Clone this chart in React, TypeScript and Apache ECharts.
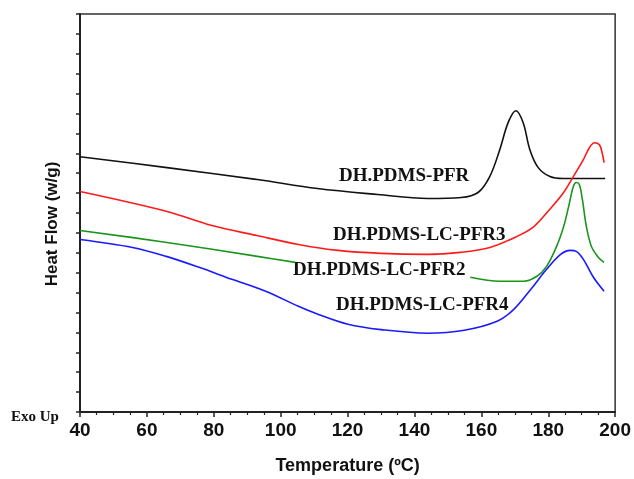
import React, { useEffect, useRef } from "react";
import * as echarts from "echarts";

// DSC thermograms: heat flow (arbitrary units, exo up) against temperature
const blackTemp = [40, 66, 93, 111, 129, 144, 154, 159, 162.5, 165.5, 168, 170.3, 172.5, 174.5, 177, 180.5, 184.5, 197];
const blackHF = [12.83, 12.28, 11.68, 11.23, 10.93, 10.73, 10.78, 11.03, 11.83, 13.18, 14.54, 15.14, 14.54, 13.18, 12.28, 11.83, 11.73, 11.73];

const redTemp = [40, 66, 79.5, 92.8, 105.3, 117.2, 130, 144, 153.7, 162.6, 170.6, 175.7, 180.4, 184.6, 187.5, 190.5, 192.3, 193.8, 195.3, 196.1, 196.7];
const redHF = [11.08, 10.08, 9.37, 8.87, 8.42, 8.12, 7.97, 7.92, 8.02, 8.27, 8.82, 9.32, 10.18, 11.03, 11.83, 12.68, 13.28, 13.53, 13.43, 13.03, 12.53];

// the green trace is interrupted where its label sits
const greenTemp = [40, 66, 93, 104.4, 130, 156.7, 165.6, 172.7, 176.6, 179.5, 182.5, 184.6, 186.1, 187.5, 188.4, 189.3, 190.2, 191.4, 192.9, 195, 196.7];
const greenHF: (number | null)[] = [9.12, 8.52, 7.82, 7.52, null, 6.77, 6.57, 6.57, 6.82, 7.32, 8.32, 9.32, 10.33, 11.33, 11.53, 11.43, 10.68, 9.32, 8.32, 7.77, 7.52];

const blueTemp = [40, 55.7, 65.8, 75.6, 85.4, 95.5, 105.3, 110.4, 120.1, 130, 143.9, 154.9, 164.7, 169.7, 174.8, 179.5, 183.7, 186.6, 188.4, 190.5, 193.5, 196.7];
const blueHF = [8.67, 8.27, 7.82, 7.27, 6.67, 6.07, 5.31, 4.96, 4.41, 4.14, 3.96, 4.11, 4.56, 5.16, 6.17, 7.17, 7.92, 8.12, 8.07, 7.67, 6.77, 6.07];

const seriesNames = ["DH.PDMS-PFR", "DH.PDMS-LC-PFR3", "DH.PDMS-LC-PFR2", "DH.PDMS-LC-PFR4"];
const seriesColors = ["#111111", "#ff1a1a", "#1a951a", "#1a1aff"];

const pairs = (t: number[], v: (number | null)[]) =>
  t.map((x, i) => [x, v[i] === null ? "-" : v[i]]);

const X_MIN = 40;
const X_MAX = 200;
const Y_MIN = 0;
const Y_MAX = 20;

export default function App() {
  const ref = useRef<HTMLDivElement>(null);

  useEffect(() => {
    if (!ref.current) return;
    const chart = echarts.init(ref.current, undefined, { renderer: "svg" });

    const sets = [
      pairs(blackTemp, blackHF),
      pairs(redTemp, redHF),
      pairs(greenTemp, greenHF),
      pairs(blueTemp, blueHF),
    ];

    chart.setOption({
      animation: false,
      grid: { left: 80, right: 15, top: 14, bottom: 66 },
      xAxis: [
        {
          type: "value",
          min: X_MIN,
          max: X_MAX,
          interval: 20,
          position: "bottom",
          axisLine: { show: true, onZero: false, lineStyle: { color: "#222222", width: 2 } },
          axisTick: { show: true, inside: false, length: 5, lineStyle: { color: "#222222", width: 1.5 } },
          minorTick: { show: true, splitNumber: 4, length: 3, lineStyle: { color: "#222222", width: 1.2 } },
          axisLabel: {
            margin: 8,
            color: "#111111",
            fontFamily: '"Liberation Sans", Arial, sans-serif',
            fontWeight: "bold",
            fontSize: 19,
          },
          splitLine: { show: false },
          name: "Temperature (\u00baC)",
          nameLocation: "middle",
          nameGap: 44,
          nameTextStyle: {
            color: "#111111",
            fontFamily: '"Liberation Sans", Arial, sans-serif',
            fontWeight: "bold",
            fontSize: 18,
          },
        },
      ],
      yAxis: [
        {
          type: "value",
          min: Y_MIN,
          max: Y_MAX,
          interval: 1,
          position: "left",
          axisLine: { show: true, onZero: false, lineStyle: { color: "#222222", width: 2 } },
          axisTick: { show: true, inside: false, length: 4, lineStyle: { color: "#222222", width: 1.5 } },
          axisLabel: { show: false },
          splitLine: { show: false },
        },
      ],
      series: sets.map((data, i) => ({
        name: seriesNames[i],
        type: "line",
        data,
        smooth: 0.35,
        connectNulls: false,
        showSymbol: false,
        symbol: "none",
        lineStyle: { color: seriesColors[i], width: 1.6 },
      })),
    });

    // plot frame, placed from the axes' own scales
    const [fx0, fy0] = chart.convertToPixel({ gridIndex: 0 }, [X_MIN, Y_MAX]) as number[];
    const [fx1, fy1] = chart.convertToPixel({ gridIndex: 0 }, [X_MAX, Y_MIN]) as number[];

    const labelFont = 'bold 19px "Liberation Serif", "Times New Roman", serif';
    const labelPos = [
      [339, 176],
      [333, 235],
      [293, 270],
      [336, 305],
    ];

    chart.setOption({
      graphic: [
        {
          type: "rect",
          silent: true,
          z: 0,
          shape: { x: fx0, y: fy0, width: fx1 - fx0, height: fy1 - fy0 },
          style: { fill: "none", stroke: "#333333", lineWidth: 1.5 },
        },
        ...seriesNames.map((name, i) => ({
          type: "text",
          left: labelPos[i][0],
          top: labelPos[i][1] - 11,
          style: { text: name, font: labelFont, fill: "#111111" },
        })),
        {
          type: "text",
          x: 51,
          y: 224,
          rotation: Math.PI / 2,
          style: {
            text: "Heat Flow (w/g)",
            font: 'bold 17px "Liberation Sans", Arial, sans-serif',
            fill: "#111111",
            align: "center",
            verticalAlign: "middle",
          },
        },
        {
          type: "text",
          left: 11,
          top: 408,
          style: {
            text: "Exo Up",
            font: 'bold 15px "Liberation Serif", "Times New Roman", serif',
            fill: "#111111",
          },
        },
      ],
    });

    return () => chart.dispose();
  }, []);

  return (
    <div
      ref={ref}
      style={{ position: "fixed", left: 0, top: 0, width: 634, height: 479 }}
    />
  );
}
